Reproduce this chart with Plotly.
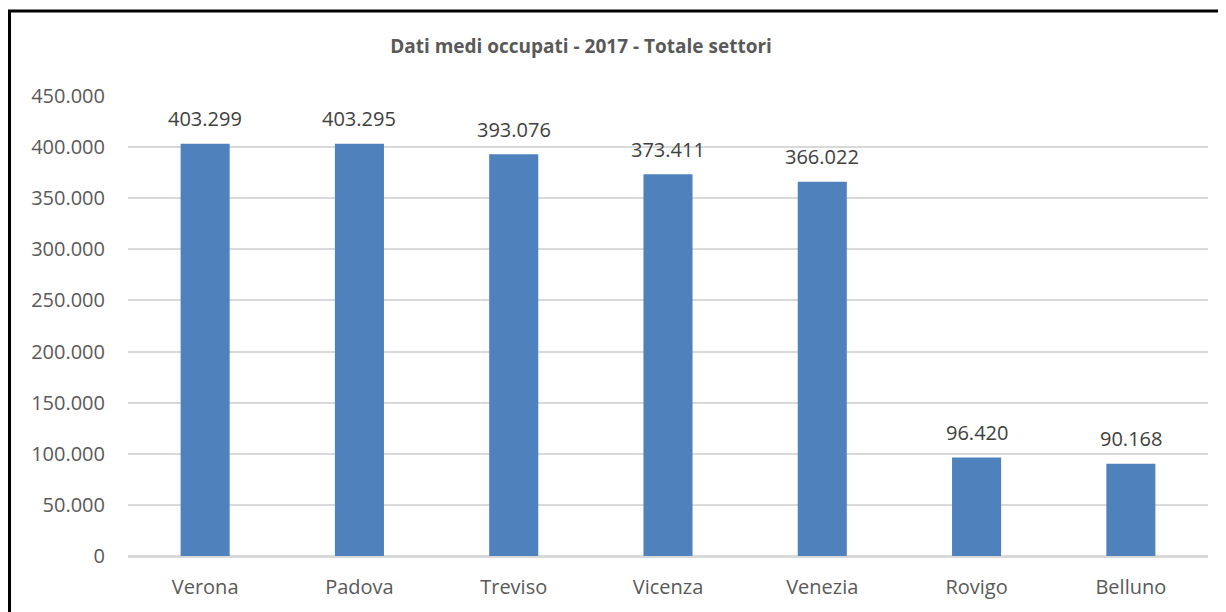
import plotly.graph_objects as go

province = ["Verona", "Padova", "Treviso", "Vicenza", "Venezia", "Rovigo", "Belluno"]
occupati = [403299, 403295, 393076, 373411, 366022, 96420, 90168]
etichette = ["403.299", "403.295", "393.076", "373.411", "366.022", "96.420", "90.168"]
tick_vals = [0, 50000, 100000, 150000, 200000, 250000, 300000, 350000, 400000, 450000]

FONT = "Open Sans"
W, H = 1226, 612
L, T, R, B = 120.4, 88, 26.4, 64
PW, PH = W - L - R, H - T - B

fig = go.Figure(go.Bar(
    x=province, y=occupati,
    marker=dict(color="#4F81BD", line=dict(width=0)),
    hoverinfo="x+y",
))
annotations = [
    dict(x=p, y=v, text=t, xref="x", yref="y", showarrow=False,
         yanchor="middle", yshift=25,
         font=dict(family=FONT, size=20, color="#404040"))
    for p, v, t in zip(province, occupati, etichette)
]
fig.update_layout(
    width=W, height=H,
    margin=dict(l=L, t=T, r=R, b=B),
    paper_bgcolor="white", plot_bgcolor="white",
    separators=",.",
    bargap=0.682,
    showlegend=False,
    annotations=annotations,
    title=dict(text="<b>Dati medi occupati - 2017 - Totale settori</b>",
               x=573 / W, xanchor="center", y=1 - 38 / H, yanchor="middle",
               font=dict(family=FONT, size=19, color="#595959")),
    xaxis=dict(showgrid=False, showline=False, ticks="", ticklabelstandoff=17,
               tickfont=dict(family=FONT, size=20, color="#595959")),
    yaxis=dict(range=[0, 450000], tickvals=tick_vals, tickformat=",d",
               showgrid=True, gridcolor="#D9D9D9", gridwidth=2,
               zeroline=True, zerolinecolor="#D9D9D9", zerolinewidth=3,
               showline=False, ticks="", ticklabelstandoff=22,
               tickfont=dict(family=FONT, size=20, color="#595959")),
    shapes=[dict(type="rect", xref="paper", yref="paper",
                 x0=(2 - L) / PW, x1=(W + 40 - L) / PW,
                 y0=-(B + 40) / PH, y1=1 + (T - 3) / PH,
                 line=dict(color="black", width=3), fillcolor="rgba(0,0,0,0)",
                 layer="above")],
)
fig.write_html("out.html")
